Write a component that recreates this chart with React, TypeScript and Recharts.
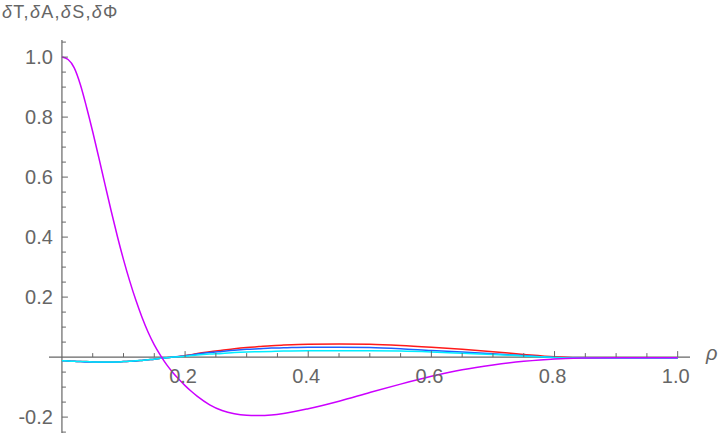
import React from 'react';
import { LineChart, Line, XAxis, YAxis, ReferenceLine } from 'recharts';

// sample positions along rho
const rho = [
  0, 0.01, 0.02, 0.03, 0.04, 0.05, 0.06, 0.07, 0.08, 0.09, 0.1, 0.11, 0.12, 0.13, 0.14,
  0.15, 0.16, 0.17, 0.18, 0.19, 0.2, 0.21, 0.22, 0.24, 0.26, 0.28, 0.3, 0.32, 0.34, 0.36,
  0.4, 0.45, 0.5, 0.55, 0.6, 0.65, 0.7, 0.75, 0.8, 0.85, 0.9, 0.95, 1.0,
];

// δT (red)
const dT = [
  -0.012, -0.013, -0.014, -0.015, -0.015, -0.016, -0.016, -0.016, -0.016, -0.016, -0.015,
  -0.014, -0.013, -0.011, -0.009, -0.007, -0.004, -0.002, 0.0, 0.002, 0.005, 0.008, 0.012,
  0.018, 0.023, 0.028, 0.032, 0.035, 0.038, 0.04, 0.043, 0.044, 0.043, 0.039, 0.033, 0.026,
  0.018, 0.009, 0.001, -0.003, -0.003, -0.003, -0.003,
];

// δA (blue)
const dA = [
  -0.012, -0.013, -0.014, -0.015, -0.016, -0.016, -0.017, -0.017, -0.017, -0.016, -0.015,
  -0.014, -0.013, -0.011, -0.009, -0.007, -0.004, -0.002, 0.0, 0.002, 0.004, 0.007, 0.01,
  0.015, 0.019, 0.023, 0.026, 0.028, 0.03, 0.031, 0.033, 0.033, 0.032, 0.028, 0.022, 0.017,
  0.011, 0.005, -0.001, -0.003, -0.003, -0.003, -0.003,
];

// δS (cyan)
const dS = [
  -0.012, -0.013, -0.014, -0.015, -0.015, -0.016, -0.016, -0.016, -0.016, -0.016, -0.015,
  -0.014, -0.012, -0.011, -0.009, -0.007, -0.004, -0.002, 0.0, 0.001, 0.003, 0.005, 0.007,
  0.01, 0.012, 0.015, 0.017, 0.018, 0.019, 0.02, 0.021, 0.021, 0.021, 0.02, 0.017, 0.013,
  0.009, 0.004, -0.001, -0.003, -0.003, -0.003, -0.003,
];

// δΦ (magenta)
const dPhi = [
  1.0, 0.992, 0.964, 0.908, 0.833, 0.751, 0.664, 0.575, 0.487, 0.403, 0.325, 0.254, 0.19,
  0.133, 0.083, 0.041, 0.006, -0.025, -0.051, -0.074, -0.095, -0.114, -0.131, -0.159,
  -0.178, -0.189, -0.194, -0.195, -0.193, -0.188, -0.172, -0.147, -0.118, -0.09, -0.064,
  -0.042, -0.026, -0.014, -0.006, -0.003, -0.002, -0.002, -0.002,
];

const xTicks = [0.05, 0.1, 0.15, 0.2, 0.25, 0.3, 0.35, 0.4, 0.45, 0.5, 0.55, 0.6, 0.65, 0.7, 0.75, 0.8, 0.85, 0.9, 0.95, 1.0];
const yTicks = [-0.25, -0.2, -0.15, -0.1, -0.05, 0.05, 0.1, 0.15, 0.2, 0.25, 0.3, 0.35, 0.4, 0.45, 0.5, 0.55, 0.6, 0.65, 0.7, 0.75, 0.8, 0.85, 0.9, 0.95, 1.0, 1.05];

const data = rho.map((r, i) => ({ rho: r, dT: dT[i], dA: dA[i], dS: dS[i], dPhi: dPhi[i] }));

const W = 720;
const H = 438;
const MARGIN = { top: 40, right: 30, bottom: 4, left: 48 };
const X_DOMAIN = [-0.021, 1.02];
const Y_DOMAIN = [-0.253, 1.057];
// plot box: the 1px axes below sit outside the margins
const PLOT_LEFT = MARGIN.left + 1;
const PLOT_W = W - PLOT_LEFT - MARGIN.right;
const PLOT_H = H - MARGIN.top - MARGIN.bottom - 1;
// pixel position of the origin, where the axes cross
const zeroX = PLOT_LEFT + ((0 - X_DOMAIN[0]) / (X_DOMAIN[1] - X_DOMAIN[0])) * PLOT_W;
const zeroY = MARGIN.top + ((Y_DOMAIN[1] - 0) / (Y_DOMAIN[1] - Y_DOMAIN[0])) * PLOT_H;

const AXIS = '#666666';
const FONT = '"Liberation Sans", Arial, sans-serif';

const isMajor = (v: number) => Math.abs(v * 5 - Math.round(v * 5)) < 1e-6;

const XTick = (props: any) => {
  const { x, payload } = props;
  const major = isMajor(payload.value);
  return (
    <g>
      <line x1={x} x2={x} y1={zeroY} y2={zeroY - (major ? 6 : 4)} stroke={AXIS} strokeWidth={1} />
      {major && (
        <text x={x - 2} y={zeroY + 26} textAnchor="middle" fill={AXIS} fontSize={20} fontFamily={FONT}>
          {payload.value.toFixed(1)}
        </text>
      )}
    </g>
  );
};

const YTick = (props: any) => {
  const { y, payload } = props;
  const major = isMajor(payload.value);
  return (
    <g>
      <line x1={zeroX} x2={zeroX + (major ? 6 : 4)} y1={y} y2={y} stroke={AXIS} strokeWidth={1} />
      {major && (
        <text x={zeroX - 9} y={y + 7} textAnchor="end" fill={AXIS} fontSize={20} fontFamily={FONT}>
          {payload.value.toFixed(1)}
        </text>
      )}
    </g>
  );
};

export default function App() {
  return (
    <div style={{ position: 'absolute', left: 0, top: 0, width: W, height: H, background: '#fff' }}>
      <LineChart width={W} height={H} data={data} margin={MARGIN}>
        <XAxis
          dataKey="rho"
          type="number"
          domain={X_DOMAIN}
          ticks={xTicks}
          interval={0}
          height={1}
          axisLine={false}
          tickLine={false}
          tick={(p: any) => <XTick {...p} />}
        />
        <YAxis
          type="number"
          domain={Y_DOMAIN}
          ticks={yTicks}
          interval={0}
          width={1}
          axisLine={false}
          tickLine={false}
          tick={(p: any) => <YTick {...p} />}
        />
        <ReferenceLine y={0} stroke={AXIS} strokeWidth={1.2} />
        <ReferenceLine x={0} stroke={AXIS} strokeWidth={1.2} />
        <Line type="monotone" dataKey="dT" stroke="#ff1a1a" strokeWidth={1.5} dot={false} isAnimationActive={false} />
        <Line type="monotone" dataKey="dA" stroke="#1f5fff" strokeWidth={1.5} dot={false} isAnimationActive={false} />
        <Line type="monotone" dataKey="dS" stroke="#00eeff" strokeWidth={1.5} dot={false} isAnimationActive={false} />
        <Line type="monotone" dataKey="dPhi" stroke="#cc00ff" strokeWidth={1.5} dot={false} isAnimationActive={false} />
      </LineChart>
      <div
        style={{
          position: 'absolute', left: 2, top: 3, fontFamily: FONT, fontSize: 18,
          lineHeight: '18px', color: AXIS, whiteSpace: 'nowrap', letterSpacing: 1.3,
        }}
      >
        <i>δ</i>T,<i>δ</i>A,<i>δ</i>S,<i>δ</i>Φ
      </div>
      <div
        style={{
          position: 'absolute', left: 706, top: 343, fontFamily: FONT, fontSize: 20,
          fontStyle: 'italic', lineHeight: '20px', color: AXIS,
        }}
      >
        ρ
      </div>
    </div>
  );
}
